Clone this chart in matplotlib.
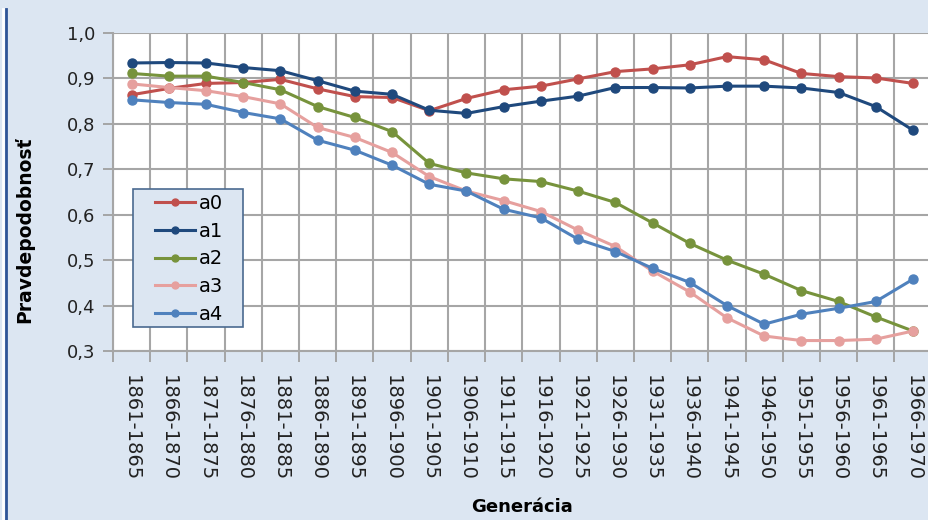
import matplotlib.pyplot as plt
from matplotlib.lines import Line2D
from matplotlib.patches import Rectangle

generacie = ['1861-1865', '1866-1870', '1871-1875', '1876-1880', '1881-1885',
             '1886-1890', '1891-1895', '1896-1900', '1901-1905', '1906-1910',
             '1911-1915', '1916-1920', '1921-1925', '1926-1930', '1931-1935',
             '1936-1940', '1941-1945', '1946-1950', '1951-1955', '1956-1960',
             '1961-1965', '1966-1970']

a0 = [0.864, 0.878, 0.889, 0.891, 0.898, 0.877, 0.860, 0.858, 0.829, 0.856, 0.875,
      0.883, 0.899, 0.915, 0.921, 0.930, 0.948, 0.941, 0.911, 0.904, 0.901, 0.889]
a1 = [0.934, 0.935, 0.934, 0.924, 0.917, 0.895, 0.872, 0.865, 0.830, 0.823, 0.838,
      0.850, 0.861, 0.880, 0.880, 0.879, 0.883, 0.883, 0.879, 0.869, 0.838, 0.786]
a2 = [0.911, 0.905, 0.905, 0.891, 0.875, 0.838, 0.814, 0.783, 0.713, 0.692, 0.679,
      0.673, 0.652, 0.627, 0.582, 0.537, 0.500, 0.469, 0.433, 0.409, 0.375, 0.344]
a3 = [0.888, 0.880, 0.873, 0.860, 0.844, 0.792, 0.770, 0.737, 0.684, 0.652, 0.631,
      0.607, 0.566, 0.530, 0.476, 0.430, 0.373, 0.333, 0.323, 0.323, 0.326, 0.344]
a4 = [0.853, 0.847, 0.843, 0.825, 0.811, 0.764, 0.742, 0.709, 0.667, 0.652, 0.612,
      0.593, 0.546, 0.519, 0.482, 0.451, 0.400, 0.359, 0.381, 0.394, 0.409, 0.458]

nazvy = ['a0', 'a1', 'a2', 'a3', 'a4']
farby = ['#c0504d', '#1f497d', '#77933c', '#e6a09e', '#4f81bd']

bg = '#dce6f2'
fig = plt.figure(figsize=(9.29, 5.2), dpi=100, facecolor=bg)
# plocha grafu (pixely z predlohy)
x0, x1, y0, y1 = 113, 931.6, 33, 351
W, H = x1 - x0, y1 - y0
ax = fig.add_axes([x0 / 929, 1 - y1 / 520, W / 929, H / 520])
ax.set_facecolor('white')

x = range(len(generacie))
for y, n, c in zip([a0, a1, a2, a3, a4], nazvy, farby):
    ax.plot(x, y, color=c, lw=2.2, marker='o', ms=6.5, label=n, zorder=3)

ax.set_xlim(-0.5, len(generacie) - 0.5)
ax.set_ylim(0.3, 1.0)
ax.set_yticks([0.3, 0.4, 0.5, 0.6, 0.7, 0.8, 0.9, 1.0])
ax.set_yticklabels(['0,3', '0,4', '0,5', '0,6', '0,7', '0,8', '0,9', '1,0'], fontsize=13, color='#222222')
ax.set_xticks(list(x))
ax.set_xticklabels(generacie, rotation=-90, fontsize=14, color='#222222')
ax.tick_params(axis='x', length=0, pad=17)
ax.set_xticks([i - 0.5 for i in range(len(generacie) + 1)], minor=True)
ax.tick_params(axis='x', which='minor', length=8, color='#a0a0a0', width=1.3)
ax.tick_params(axis='y', length=7, color='#a0a0a0', width=1.3, pad=6)

ax.grid(True, which='minor', axis='x', color='#a6a6a6', lw=1.5)
ax.grid(True, which='major', axis='y', color='#a6a6a6', lw=1.5)
for s in ['top', 'right']:
    ax.spines[s].set_visible(False)
for s in ['left', 'bottom']:
    ax.spines[s].set_color('#a6a6a6')
    ax.spines[s].set_linewidth(1.5)

ax.set_ylabel('Pravdepodobnosť', fontsize=13.5, fontweight='bold')
ax.yaxis.set_label_coords((34 - x0) / W, (y1 - 230) / H)
ax.set_xlabel('Generácia', fontsize=13, fontweight='bold', labelpad=12)

# ramik legendy
ax.add_patch(Rectangle(((133 - x0) / W, (y1 - 327) / H), 110 / W, 138 / H, transform=ax.transAxes,
                       facecolor=bg, edgecolor='#4a6a90', lw=1.2, clip_on=False, zorder=4))
handles = [Line2D([0], [0], color=c, lw=2.2, marker='o', ms=5) for c in farby]
leg = ax.legend(handles, nazvy, loc='center', bbox_to_anchor=((189 - x0) / W, (y1 - 259) / H),
                borderaxespad=0, fontsize=14, frameon=False, handlelength=2.1, handletextpad=0.2,
                labelspacing=0.45, borderpad=0.2)
leg.set_zorder(5)

fig.add_artist(Line2D([3.5 / 929, 3.5 / 929], [0, 1 - 9 / 520], color='white', lw=2.0))
fig.add_artist(Line2D([6 / 929, 6 / 929], [0, 1 - 9 / 520], color='#2f5597', lw=2.0))

fig.savefig('out.png', dpi=100, facecolor=bg)
